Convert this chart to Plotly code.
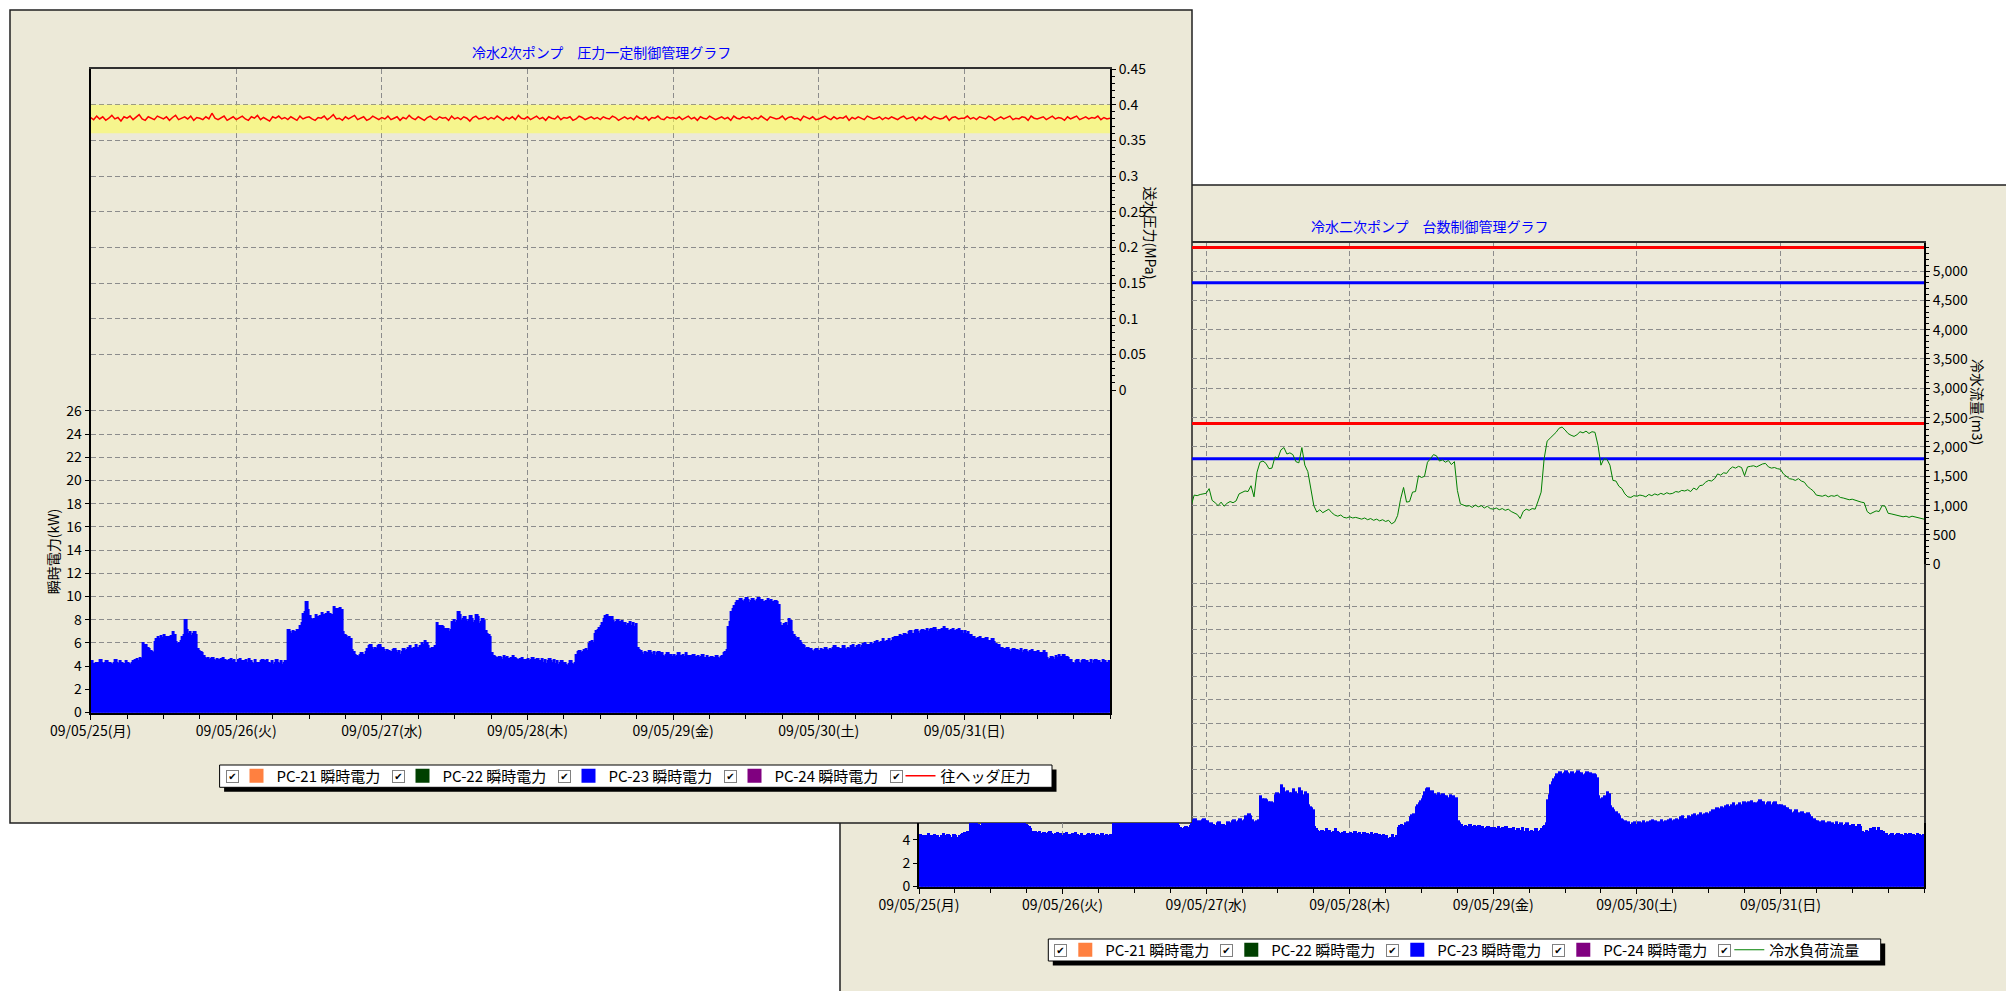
import pandas as pd
import plotly.graph_objects as go

# ------------------------------------------------------------------ data
START = "2009-05-25 00:00"
END = "2009-06-01 00:00"
DAY_TICKS = ["2009-05-25", "2009-05-26", "2009-05-27", "2009-05-28",
             "2009-05-29", "2009-05-30", "2009-05-31"]
DAY_LABELS = ["09/05/25(月)", "09/05/26(火)", "09/05/27(水)", "09/05/28(木)",
              "09/05/29(金)", "09/05/30(土)", "09/05/31(日)"]

TITLE_LEFT = "冷水2次ポンプ　圧力一定制御管理グラフ"
TITLE_RIGHT = "冷水二次ポンプ　台数制御管理グラフ"

PUMP_NAMES = ["PC-21 瞬時電力", "PC-22 瞬時電力", "PC-23 瞬時電力", "PC-24 瞬時電力"]
PUMP_COLORS = ["#FF8040", "#004000", "#0000FF", "#800080"]

# instantaneous power (kW), 15-minute values, 2009-05-25 00:00 ... 05-31 23:45
# PC-21 / PC-22 / PC-24 were stopped: no reading
POWER_PC21 = [None]
POWER_PC22 = [None]
POWER_PC24 = [None]
POWER_PC23 = [
    # 05/25
    4.4, 4.2, 4.2, 4.3, 4.3, 4.1, 4.5, 4.3, 4.2, 4.3, 4.4, 4.2, 4.3, 4.2, 4.1, 4.3,
    4.5, 4.3, 4.2, 4.4, 4.3, 4.1, 4.2, 4.4, 4.3, 4.2, 4.1, 4.3, 4.4, 4.5,
    4.6, 4.4, 4.7, 4.6, 6.0, 5.8, 5.8, 5.6, 5.5, 5.3, 5.2, 5.1, 6.1, 6.3, 6.5, 6.3,
    6.6, 6.4, 6.7, 6.5, 6.3, 6.5, 6.4, 6.6, 6.9, 6.7, 6.1, 5.9, 6.0, 6.2, 6.5, 6.7,
    8.0, 7.1, 6.8, 6.9, 6.6, 6.8, 6.9, 6.7, 5.5, 5.3, 5.2, 5.1, 4.9, 4.7, 4.6, 4.7,
    4.5, 4.6, 4.7, 4.5, 4.4, 4.6, 4.5, 4.3, 4.6, 4.7, 4.5, 4.4, 4.3, 4.5, 4.6, 4.4,
    4.5, 4.3,
    # 05/26
    4.3, 4.5, 4.6, 4.4, 4.2, 4.4, 4.5, 4.3, 4.6, 4.4, 4.3, 4.2, 4.5, 4.3, 4.1, 4.3,
    4.4, 4.5, 4.2, 4.4, 4.5, 4.3, 4.2, 4.4, 4.1, 4.3, 4.5, 4.3, 4.2, 4.4, 4.1, 4.3,
    4.4, 4.3,
    7.1, 6.9, 6.8, 7.0, 6.9, 6.7, 7.1, 6.9, 7.5, 7.7, 8.5, 8.7, 9.5, 8.8, 8.3, 8.1,
    8.0, 8.1, 8.4, 8.2, 8.1, 8.3, 8.6, 8.4, 8.3, 8.5, 8.7, 8.5, 8.2, 8.4, 9.1, 8.9,
    8.7, 8.9, 9.0, 8.8, 6.9, 6.7, 6.6, 6.4, 6.5, 6.3, 5.4, 5.2, 5.0, 4.9, 4.8, 5.0,
    5.1, 4.9, 5.0, 5.2, 5.5, 5.7, 5.8, 5.6, 5.4, 5.6, 5.5, 5.7, 5.8, 5.6,
    # 05/27
    5.6, 5.4, 5.2, 5.4, 5.3, 5.1, 5.2, 5.4, 5.5, 5.3, 5.1, 5.3, 5.0, 5.2, 5.5, 5.3,
    5.4, 5.6, 5.7, 5.5, 5.4, 5.6, 5.8, 5.6, 5.5, 5.7, 6.0, 5.8, 6.2, 6.0, 5.7, 5.5,
    5.4, 5.6, 5.5, 5.7,
    7.7, 7.5, 7.3, 7.5, 7.4, 7.2, 7.0, 7.2, 6.9, 7.1, 7.8, 8.0, 7.7, 7.9, 8.7, 8.4,
    7.9, 8.1, 8.2, 8.0, 7.8, 8.0, 8.3, 8.1, 7.7, 7.9, 8.4, 8.2, 7.6, 7.8, 8.1, 7.9,
    7.0, 6.8, 6.7, 6.5, 5.1, 4.9, 4.8, 4.7, 4.6, 4.8, 4.7, 4.5, 4.9, 4.7, 4.8, 4.6,
    4.5, 4.7, 4.9, 4.7, 4.6, 4.5, 4.4, 4.6, 4.7, 4.5, 4.3, 4.5,
    # 05/28
    4.6, 4.4, 4.5, 4.7, 4.3, 4.5, 4.6, 4.4, 4.4, 4.6, 4.3, 4.5, 4.2, 4.4, 4.6, 4.4,
    4.3, 4.5, 4.2, 4.4, 4.1, 4.3, 4.4, 4.2, 4.3, 4.1, 4.0, 4.2, 4.4, 4.2, 4.1, 4.3,
    5.0, 5.2, 5.3, 5.1, 5.2, 5.4, 5.5, 5.3, 5.9, 6.1, 6.2, 6.0, 6.8, 7.0, 7.1, 7.3,
    7.5, 7.7, 8.1, 8.3, 8.4, 8.2, 8.0, 8.2, 7.9, 7.7, 7.8, 8.0, 7.6, 7.8, 7.9, 7.7,
    7.7, 7.5, 7.6, 7.8, 7.5, 7.7, 7.4, 7.6,
    5.6, 5.4, 5.3, 5.1, 5.0, 5.2, 5.1, 4.9, 5.3, 5.1, 5.0, 5.2, 4.9, 5.1, 5.2, 5.0,
    5.1, 4.9, 4.8, 5.0, 5.1, 4.9, 5.0, 4.8,
    # 05/29
    5.0, 4.8, 4.9, 5.1, 4.7, 4.9, 5.0, 4.8, 5.1, 4.9, 4.7, 4.9, 4.8, 5.0, 4.6, 4.8,
    4.9, 4.7, 4.8, 5.0, 4.5, 4.7, 4.9, 4.7, 4.6, 4.8, 4.5, 4.7, 4.9, 4.7, 4.6, 4.8,
    4.9, 5.1, 5.2, 5.4, 7.4, 7.8, 8.7, 8.9, 9.2, 9.4, 9.6, 9.4, 9.8, 9.6, 9.5, 9.7,
    9.9, 9.7, 9.4, 9.6, 9.8, 9.6, 9.5, 9.7, 9.9, 9.7, 9.7, 9.5, 9.4, 9.6, 9.8, 9.6,
    9.7, 9.5, 9.4, 9.6, 9.5, 9.3,
    7.7, 7.5, 7.4, 7.6, 7.7, 7.5, 8.1, 7.9, 6.9, 6.7, 6.5, 6.3, 6.4, 6.2, 6.0, 5.8,
    5.7, 5.5, 5.6, 5.4, 5.5, 5.3, 5.2, 5.4, 5.5, 5.3,
    # 05/30
    5.3, 5.5, 5.4, 5.2, 5.6, 5.4, 5.3, 5.5, 5.4, 5.6, 5.7, 5.5, 5.6, 5.4, 5.5, 5.3,
    5.7, 5.5, 5.4, 5.6, 5.5, 5.7, 5.8, 5.6, 5.5, 5.7, 5.8, 5.6, 5.7, 5.9, 6.0, 5.8,
    5.6, 5.8, 6.0, 5.8, 5.9, 6.1, 6.2, 6.0, 5.9, 6.1, 6.3, 6.1, 6.0, 6.2, 6.3, 6.1,
    6.2, 6.4, 6.5, 6.3, 6.5, 6.7, 6.6, 6.4, 6.8, 6.6, 6.7, 6.9, 7.0, 6.8, 6.8, 7.0,
    7.1, 6.9, 6.8, 7.0, 7.1, 6.9, 7.0, 7.2, 6.9, 7.1, 7.2, 7.0, 7.3, 7.1, 6.9, 7.1,
    7.0, 7.2, 7.4, 7.2, 7.2, 7.0, 6.9, 7.1, 7.2, 7.0, 6.9, 7.1, 7.2, 7.0, 7.0, 6.8,
    # 05/31
    7.0, 6.8, 6.9, 6.7, 6.7, 6.5, 6.5, 6.3, 6.2, 6.4, 6.5, 6.3, 6.1, 6.3, 6.4, 6.2,
    6.2, 6.0, 6.3, 6.1, 5.9, 5.7, 5.8, 5.6, 5.6, 5.4, 5.5, 5.3, 5.6, 5.4, 5.2, 5.4,
    5.5, 5.3, 5.4, 5.2, 5.3, 5.5, 5.1, 5.3, 5.4, 5.2, 5.1, 5.3, 5.4, 5.2, 5.0, 5.2,
    5.3, 5.1, 4.9, 5.1, 5.3, 5.1, 4.7, 4.5, 4.6, 4.8, 4.7, 4.5, 4.9, 4.7, 5.0, 4.8,
    4.8, 5.0, 4.6, 4.8, 4.7, 4.5, 4.5, 4.3, 4.2, 4.4, 4.5, 4.3, 4.2, 4.4, 4.5, 4.3,
    4.4, 4.2, 4.3, 4.5, 4.2, 4.4, 4.5, 4.3, 4.4, 4.2, 4.3, 4.5, 4.4, 4.2, 4.3, 4.4,
]

# supply header pressure, 1/1000 MPa, 30-minute values (05/25 00:00 ... 06/01 00:00)
PRESSURE_MILLI_MPA = [
    382, 379, 384, 380, 383, 378, 381, 385, 380, 382, 377, 383, 381, 384, 379, 382, 386, 380, 378, 383, 381, 379, 384, 382,
    380, 383, 378, 382, 385, 379, 381, 383, 380, 384, 378, 382, 381, 379, 383, 380, 388, 381, 379, 382, 384, 378, 381, 383,
    379, 382, 384, 380, 378, 383, 381, 385, 379, 382, 380, 377, 383, 381, 384, 380, 382, 379, 383, 381, 378, 384, 380, 382,
    383, 380, 378, 382, 381, 384, 379, 382, 386, 380, 381, 378, 383, 380, 382, 385, 379, 381, 383, 378, 380, 384, 381, 379,
    382, 380, 384, 379, 381, 383, 378, 382, 380, 385, 381, 379, 383, 381, 378, 382, 384, 380, 379, 383, 381, 382, 378, 384,
    380, 382, 379, 383, 381, 377, 382, 384, 380, 381, 383, 379, 382, 380, 384, 381, 378, 382, 380, 383, 379, 385, 381, 380,
    383, 379, 381, 384, 380, 382, 378, 383, 381, 380, 384, 379, 382, 381, 383, 378, 380, 384, 382, 379, 381, 383, 380, 382,
    379, 383, 381, 380, 384, 382, 378, 381, 383, 380, 382, 379, 384, 381, 380, 383, 378, 382, 381, 384, 380, 379, 383, 381,
    382, 380, 383, 379, 381, 384, 380, 382, 378, 383, 381, 380, 384, 382, 379, 381, 383, 380, 382, 378, 384, 381, 380, 383,
    381, 383, 379, 382, 380, 384, 381, 378, 383, 382, 380, 381, 384, 379, 382, 383, 380, 381, 378, 384, 382, 380, 383, 379,
    380, 382, 384, 381, 379, 383, 380, 382, 381, 384, 378, 382, 380, 383, 381, 379, 384, 382, 380, 381, 383, 379, 382, 380,
    383, 381, 379, 382, 384, 380, 381, 383, 378, 382, 380, 384, 381, 379, 383, 382, 380, 381, 384, 378, 382, 383, 380, 381,
    381, 384, 380, 382, 379, 383, 381, 380, 384, 382, 378, 381, 383, 380, 382, 384, 379, 381, 380, 383, 382, 378, 384, 381,
    380, 382, 383, 379, 381, 384, 380, 382, 381, 378, 383, 380, 382, 384, 379, 381, 383, 380, 382, 381, 384, 379, 382, 380,
    381,
]
PRESSURE_BAND = [0.36, 0.40]          # control band (MPa)

# chilled-water load flow (m3), 30-minute values 05/25 00:00 ... 06/01 00:00
FLOW_M3 = [
    # 05/25
    900, 890, 880, 870, 870, 860, 860, 870, 880, 860, 850, 860, 870, 880, 900, 960,
    1050, 1200, 1300, 1260, 1250, 1330, 1400, 1420, 1450, 1470, 1500, 1440, 1380, 1460, 1550, 1580,
    1600, 1520, 1450, 1300, 1100, 1000, 950, 930, 920, 910, 900, 890, 880, 890, 900, 890,
    # 05/26
    890, 880, 870, 860, 860, 870, 880, 860, 850, 860, 870, 860, 860, 850, 850, 870,
    900, 1150, 1400, 1420, 1450, 1520, 1600, 1700, 1800, 1830, 1850, 1820, 1800, 1850, 1900, 1930,
    1950, 1920, 1900, 1700, 1500, 1400, 1300, 1200, 1050, 1000, 900, 1000, 1180, 1170, 1190, 1200,
    # 05/27
    1210, 1290, 1090, 1050, 1000, 1060, 990, 1040, 1070, 1050, 1080, 1200, 1230, 1250, 1240, 1340,
    1150, 1570, 1740, 1760, 1720, 1630, 1640, 1830, 1810, 1950, 1990, 1880, 1900, 1870, 1750, 1730,
    1990, 1690, 1580, 1250, 1000, 890, 930, 880, 910, 940, 880, 840, 820, 840, 800, 790,
    # 05/28
    810, 790, 800, 780, 770, 790, 760, 780, 750, 770, 740, 760, 730, 750, 690, 720,
    830, 1110, 1310, 1060, 1070, 1230, 1240, 1510, 1480, 1500, 1740, 1800, 1870, 1850, 1760, 1780,
    1740, 1770, 1700, 1750, 1260, 1030, 1010, 990, 1000, 970, 1010, 980, 1000, 960, 990, 950,
    # 05/29
    940, 960, 930, 950, 920, 940, 900, 880, 850, 780, 900, 940, 920, 950, 940, 1080,
    1230, 1800, 2100, 2150, 2200, 2250, 2320, 2340, 2290, 2230, 2200, 2180, 2210, 2260, 2240, 2270,
    2230, 2260, 2250, 2030, 1690, 1800, 1790, 1690, 1430, 1420, 1330, 1290, 1200, 1150, 1140, 1170,
    # 05/30
    1160, 1180, 1170, 1150, 1190, 1170, 1200, 1180, 1210, 1190, 1220, 1200, 1210, 1240, 1230, 1260,
    1250, 1270, 1240, 1300, 1270, 1340, 1350, 1400, 1430, 1420, 1460, 1540, 1520, 1560, 1550, 1620,
    1660, 1640, 1670, 1650, 1510, 1660, 1670, 1680, 1660, 1690, 1710, 1720, 1660, 1640, 1650, 1630,
    # 05/31
    1620, 1540, 1500, 1460, 1450, 1430, 1460, 1420, 1400, 1330, 1290, 1250, 1180, 1170, 1160, 1180,
    1150, 1170, 1160, 1180, 1140, 1130, 1120, 1100, 1110, 1090, 1080, 1060, 1050, 900, 860, 880,
    910, 900, 1000, 990, 870, 860, 850, 830, 820, 810, 820, 800, 820, 810, 800, 780,
    # 06/01 00:00
    770,
]
FLOW_UP_LIMITS = [5400, 2400]     # red: staging-up thresholds
FLOW_DOWN_LIMITS = [4800, 1800]   # blue: staging-down thresholds

POWER_TICKS = [0, 2, 4, 6, 8, 10, 12, 14, 16, 18, 20, 22, 24, 26]
PRESSURE_TICKS = [0, 0.05, 0.1, 0.15, 0.2, 0.25, 0.3, 0.35, 0.4, 0.45]
PRESSURE_LABELS = ["0", "0.05", "0.1", "0.15", "0.2", "0.25", "0.3", "0.35", "0.4", "0.45"]
FLOW_TICKS = [0, 500, 1000, 1500, 2000, 2500, 3000, 3500, 4000, 4500, 5000]

LEGEND_LEFT_LINE = "往ヘッダ圧力"
LEGEND_RIGHT_LINE = "冷水負荷流量"
YTITLE_POWER = "瞬時電力(kW)"
YTITLE_PRESSURE = "送水圧力(MPa)"
YTITLE_FLOW = "冷水流量(m3)"

# ------------------------------------------------------------------ geometry (px)
W, H = 2006, 991
FONT = "Noto Sans CJK JP, Noto Sans, sans-serif"
BEIGE = "#ECE9D8"
GRID = "#8c8c8c"
DASH = "5px,3px"
QUARTER_HOUR_MS = 15 * 60 * 1000
SIX_HOURS_MS = 6 * 3600 * 1000


def fx(px):
    return px / W


def fy(py):
    return 1 - py / H


# left window / chart
LW = (10, 10, 1192, 823)
L_X0, L_X1 = 90.6, 1110
L_TOP, L_MID, L_BOT = 69, 390, 712.5
L_KW_PX = 11.6
# right window / chart
RW = (840, 185)
R_X0, R_X1 = 919, 1924
R_CUT = LW[2]
R_TOP, R_MID, R_BOT = 242.7, 564.3, 886.5
R_KW_PX = 11.667
R_FLOW_PX = 0.05866

t0 = pd.Timestamp(START)
t1 = pd.Timestamp(END)
t_cut = t0 + (t1 - t0) * ((R_CUT - R_X0) / (R_X1 - R_X0))
L_KW_MAX = (L_BOT - L_MID) / L_KW_PX
R_KW_MAX = (R_BOT - R_MID) / R_KW_PX
R_KW_CUT = (R_BOT - LW[3]) / R_KW_PX
R_FLOW_MAX = (R_MID - R_TOP) / R_FLOW_PX

t_power = pd.date_range(START, periods=len(POWER_PC23), freq="15min")
t_press = pd.date_range(START, periods=len(PRESSURE_MILLI_MPA), freq="30min")
t_flow = pd.date_range(START, periods=len(FLOW_M3), freq="30min")
pressure = [v / 1000 for v in PRESSURE_MILLI_MPA]
pump_values = [POWER_PC21, POWER_PC22, POWER_PC23, POWER_PC24]

fig = go.Figure()


def power_bar(name, vals, color, xa, ya, legend, show):
    return go.Bar(
        name=name, x=t_power[:len(vals)], y=vals, xaxis=xa, yaxis=ya,
        legend=legend, showlegend=show, offset=0, width=QUARTER_HOUR_MS,
        marker=dict(color=color, line=dict(color=color, width=2)),
        hoverinfo="skip",
    )


# ---- left chart
for name, vals, color in zip(PUMP_NAMES, pump_values, PUMP_COLORS):
    fig.add_trace(power_bar(name, vals, color, "x", "y", "legend", True))

fig.add_trace(go.Scatter(x=[START, END], y=[PRESSURE_BAND[0]] * 2, xaxis="x2", yaxis="y2",
                         mode="lines", line=dict(width=0, color="rgba(0,0,0,0)"),
                         showlegend=False, hoverinfo="skip"))
fig.add_trace(go.Scatter(x=[START, END], y=[PRESSURE_BAND[1]] * 2, xaxis="x2", yaxis="y2",
                         mode="lines", line=dict(width=0, color="rgba(0,0,0,0)"),
                         fill="tonexty", fillcolor="rgba(255,255,80,0.55)",
                         showlegend=False, hoverinfo="skip"))
fig.add_trace(go.Scatter(x=t_press, y=pressure, xaxis="x2", yaxis="y2", mode="lines",
                         name=LEGEND_LEFT_LINE, legend="legend",
                         line=dict(color="#FF0000", width=1.5)))

# ---- right chart
fig.add_trace(power_bar(PUMP_NAMES[2], POWER_PC23, PUMP_COLORS[2], "x4", "y4", "legend2", False))
for lim in FLOW_UP_LIMITS:
    fig.add_trace(go.Scatter(x=[START, END], y=[lim, lim], xaxis="x3", yaxis="y3", mode="lines",
                             line=dict(color="#FF0000", width=3), showlegend=False, hoverinfo="skip"))
for lim in FLOW_DOWN_LIMITS:
    fig.add_trace(go.Scatter(x=[START, END], y=[lim, lim], xaxis="x3", yaxis="y3", mode="lines",
                             line=dict(color="#0000FF", width=3), showlegend=False, hoverinfo="skip"))
for name, vals, color in zip(PUMP_NAMES, pump_values, PUMP_COLORS):
    fig.add_trace(power_bar(name, vals, color, "x5", "y5", "legend2", True))
fig.add_trace(go.Scatter(x=t_flow, y=FLOW_M3, xaxis="x3", yaxis="y3", mode="lines",
                         name=LEGEND_RIGHT_LINE, legend="legend2",
                         line=dict(color="#008000", width=1)))

# ------------------------------------------------------------------ axes
tickfont = dict(family=FONT, size=14, color="black")
gridkw = dict(showgrid=True, gridcolor=GRID, griddash=DASH, gridwidth=1, zeroline=False)


def date_axis(x0, x1, rng, anchor, labels, **kw):
    d = dict(type="date", domain=[fx(x0), fx(x1)], range=rng, anchor=anchor,
             tickmode="array", tickvals=DAY_TICKS, fixedrange=True, **gridkw)
    if labels:
        d.update(ticktext=DAY_LABELS, ticks="outside", ticklen=5, tickwidth=1, tickcolor="black",
                 tickfont=tickfont, showline=True, linecolor="black", linewidth=2,
                 minor=dict(tickmode="linear", tick0=START, dtick=SIX_HOURS_MS,
                            ticks="outside", ticklen=4, tickcolor="black", showgrid=False))
    else:
        d.update(showticklabels=False, ticks="")
    d.update(kw)
    return d


layout_axes = dict(
    xaxis=date_axis(L_X0, L_X1, [START, END], "y", True),
    xaxis2=date_axis(L_X0, L_X1, [START, END], "y2", False, side="top",
                     showline=True, linecolor="#303030", linewidth=1.5),
    xaxis3=date_axis(R_CUT, R_X1, [t_cut, t1], "y3", False, side="top",
                     showline=True, linecolor="#303030", linewidth=1.5),
    xaxis4=date_axis(R_CUT, R_X1, [t_cut, t1], "y4", False, showline=False),
    xaxis5=date_axis(R_X0, R_X1, [START, END], "y5", True),
    yaxis=dict(domain=[fy(L_BOT), fy(L_MID)], range=[0, L_KW_MAX], anchor="x",
               tickmode="array", tickvals=POWER_TICKS, ticks="outside", ticklen=4,
               tickcolor="black", tickfont=tickfont, showline=True, linecolor="black",
               linewidth=2, mirror=True, fixedrange=True, **gridkw),
    yaxis2=dict(domain=[fy(L_MID), fy(L_TOP)], range=[0, 0.45], anchor="x2", side="right",
                tickmode="array", tickvals=PRESSURE_TICKS, ticktext=PRESSURE_LABELS,
                ticks="outside", ticklen=4, tickcolor="black", tickfont=tickfont,
                showline=True, linecolor="black", linewidth=2, mirror=True, fixedrange=True,
                minor=dict(tickmode="linear", tick0=0, dtick=0.01, ticks="outside",
                           ticklen=3, tickcolor="black", showgrid=False),
                **gridkw),
    yaxis3=dict(domain=[fy(R_MID), fy(R_TOP)], range=[0, R_FLOW_MAX], anchor="x3", side="right",
                tickmode="array", tickvals=FLOW_TICKS, ticktext=[f"{v:,}" for v in FLOW_TICKS],
                ticks="outside", ticklen=4, tickcolor="black", tickfont=tickfont,
                showline=True, linecolor="black", linewidth=2, fixedrange=True,
                minor=dict(tickmode="linear", tick0=0, dtick=100, ticks="outside",
                           ticklen=3, tickcolor="black", showgrid=False),
                **gridkw),
    yaxis4=dict(domain=[fy(LW[3]), fy(R_MID)], range=[R_KW_CUT, R_KW_MAX], anchor="x4",
                side="right", tickmode="array", tickvals=POWER_TICKS, showticklabels=False,
                ticks="", showline=True, linecolor="#303030", linewidth=1.5,
                fixedrange=True, **gridkw),
    yaxis5=dict(domain=[fy(R_BOT), fy(LW[3])], range=[0, R_KW_CUT], anchor="x5",
                tickmode="array", tickvals=POWER_TICKS, ticks="outside", ticklen=4,
                tickcolor="black", tickfont=tickfont, showline=True, linecolor="black",
                linewidth=2, mirror=True, fixedrange=True, **gridkw),
)

# ------------------------------------------------------------------ decorations
def rect(x0, y0, x1, y1, fill, line="#202020", lw=1.5):
    return dict(type="rect", xref="paper", yref="paper", layer="below",
                x0=fx(x0), x1=fx(x1), y0=fy(y1), y1=fy(y0),
                fillcolor=fill, line=dict(color=line, width=lw))


L_LEG = dict(box=(219.6, 765, 1052, 787.3), first=256.5, cy=776)
R_LEG = dict(box=(1048.3, 939, 1880.7, 961), first=1085.3, cy=950)
PITCH = 166
SHADOW = 4.5

shapes = [
    rect(RW[0], RW[1], W + 10, H + 10, BEIGE),
    rect(*LW, BEIGE),
]
for leg in (L_LEG, R_LEG):
    bx0, by0, bx1, by1 = leg["box"]
    shapes.append(rect(bx0 + SHADOW, by0 + SHADOW, bx1 + SHADOW, by1 + SHADOW, "black", "black", 0))
    shapes.append(rect(bx0, by0, bx1, by1, "white", "black", 1))

annotations = [
    dict(text=TITLE_LEFT, x=fx(601), y=fy(52), font=dict(family=FONT, size=14, color="#0000FF")),
    dict(text=TITLE_RIGHT, x=fx(1429.5), y=fy(226), font=dict(family=FONT, size=14, color="#0000FF")),
    dict(text=YTITLE_POWER, x=fx(52.5), y=fy(551.7), textangle=-90, font=dict(family=FONT, size=14, color="black")),
    dict(text=YTITLE_PRESSURE, x=fx(1150.5), y=fy(233), textangle=90, font=dict(family=FONT, size=14, color="black")),
    dict(text=YTITLE_FLOW, x=fx(1978), y=fy(402), textangle=90, font=dict(family=FONT, size=14, color="black")),
]
for leg in (L_LEG, R_LEG):
    for i in range(5):
        annotations.append(dict(
            text="✔", x=fx(leg["first"] - 24.5 + i * PITCH), y=fy(leg["cy"]),
            font=dict(family="DejaVu Sans", size=10, color="black"),
            bgcolor="white", bordercolor="#808080", borderwidth=1, borderpad=0,
            width=11, height=11, align="center", valign="middle"))
for a in annotations:
    a.update(xref="paper", yref="paper", showarrow=False, xanchor="center", yanchor="middle")


def legend_at(leg):
    return dict(orientation="h", x=fx(leg["first"] - 20), xanchor="left",
                y=fy(leg["cy"]), yanchor="middle", entrywidth=PITCH - 45,
                entrywidthmode="pixels", itemwidth=30, bgcolor="rgba(0,0,0,0)",
                borderwidth=0, font=dict(family=FONT, size=15, color="black"),
                traceorder="normal", itemclick=False, itemdoubleclick=False)


fig.update_layout(
    width=W, height=H, autosize=False,
    margin=dict(l=0, r=0, t=0, b=0, pad=0, autoexpand=False),
    paper_bgcolor="white", plot_bgcolor="rgba(0,0,0,0)",
    barmode="overlay", bargap=0, showlegend=True, hovermode=False,
    shapes=shapes, annotations=annotations,
    legend=legend_at(L_LEG), legend2=legend_at(R_LEG),
    **layout_axes,
)

fig.write_html(
    "out.html",
    config={"displayModeBar": False, "staticPlot": False},
    post_script="document.body.style.margin='0px';document.body.style.overflow='hidden';",
)
